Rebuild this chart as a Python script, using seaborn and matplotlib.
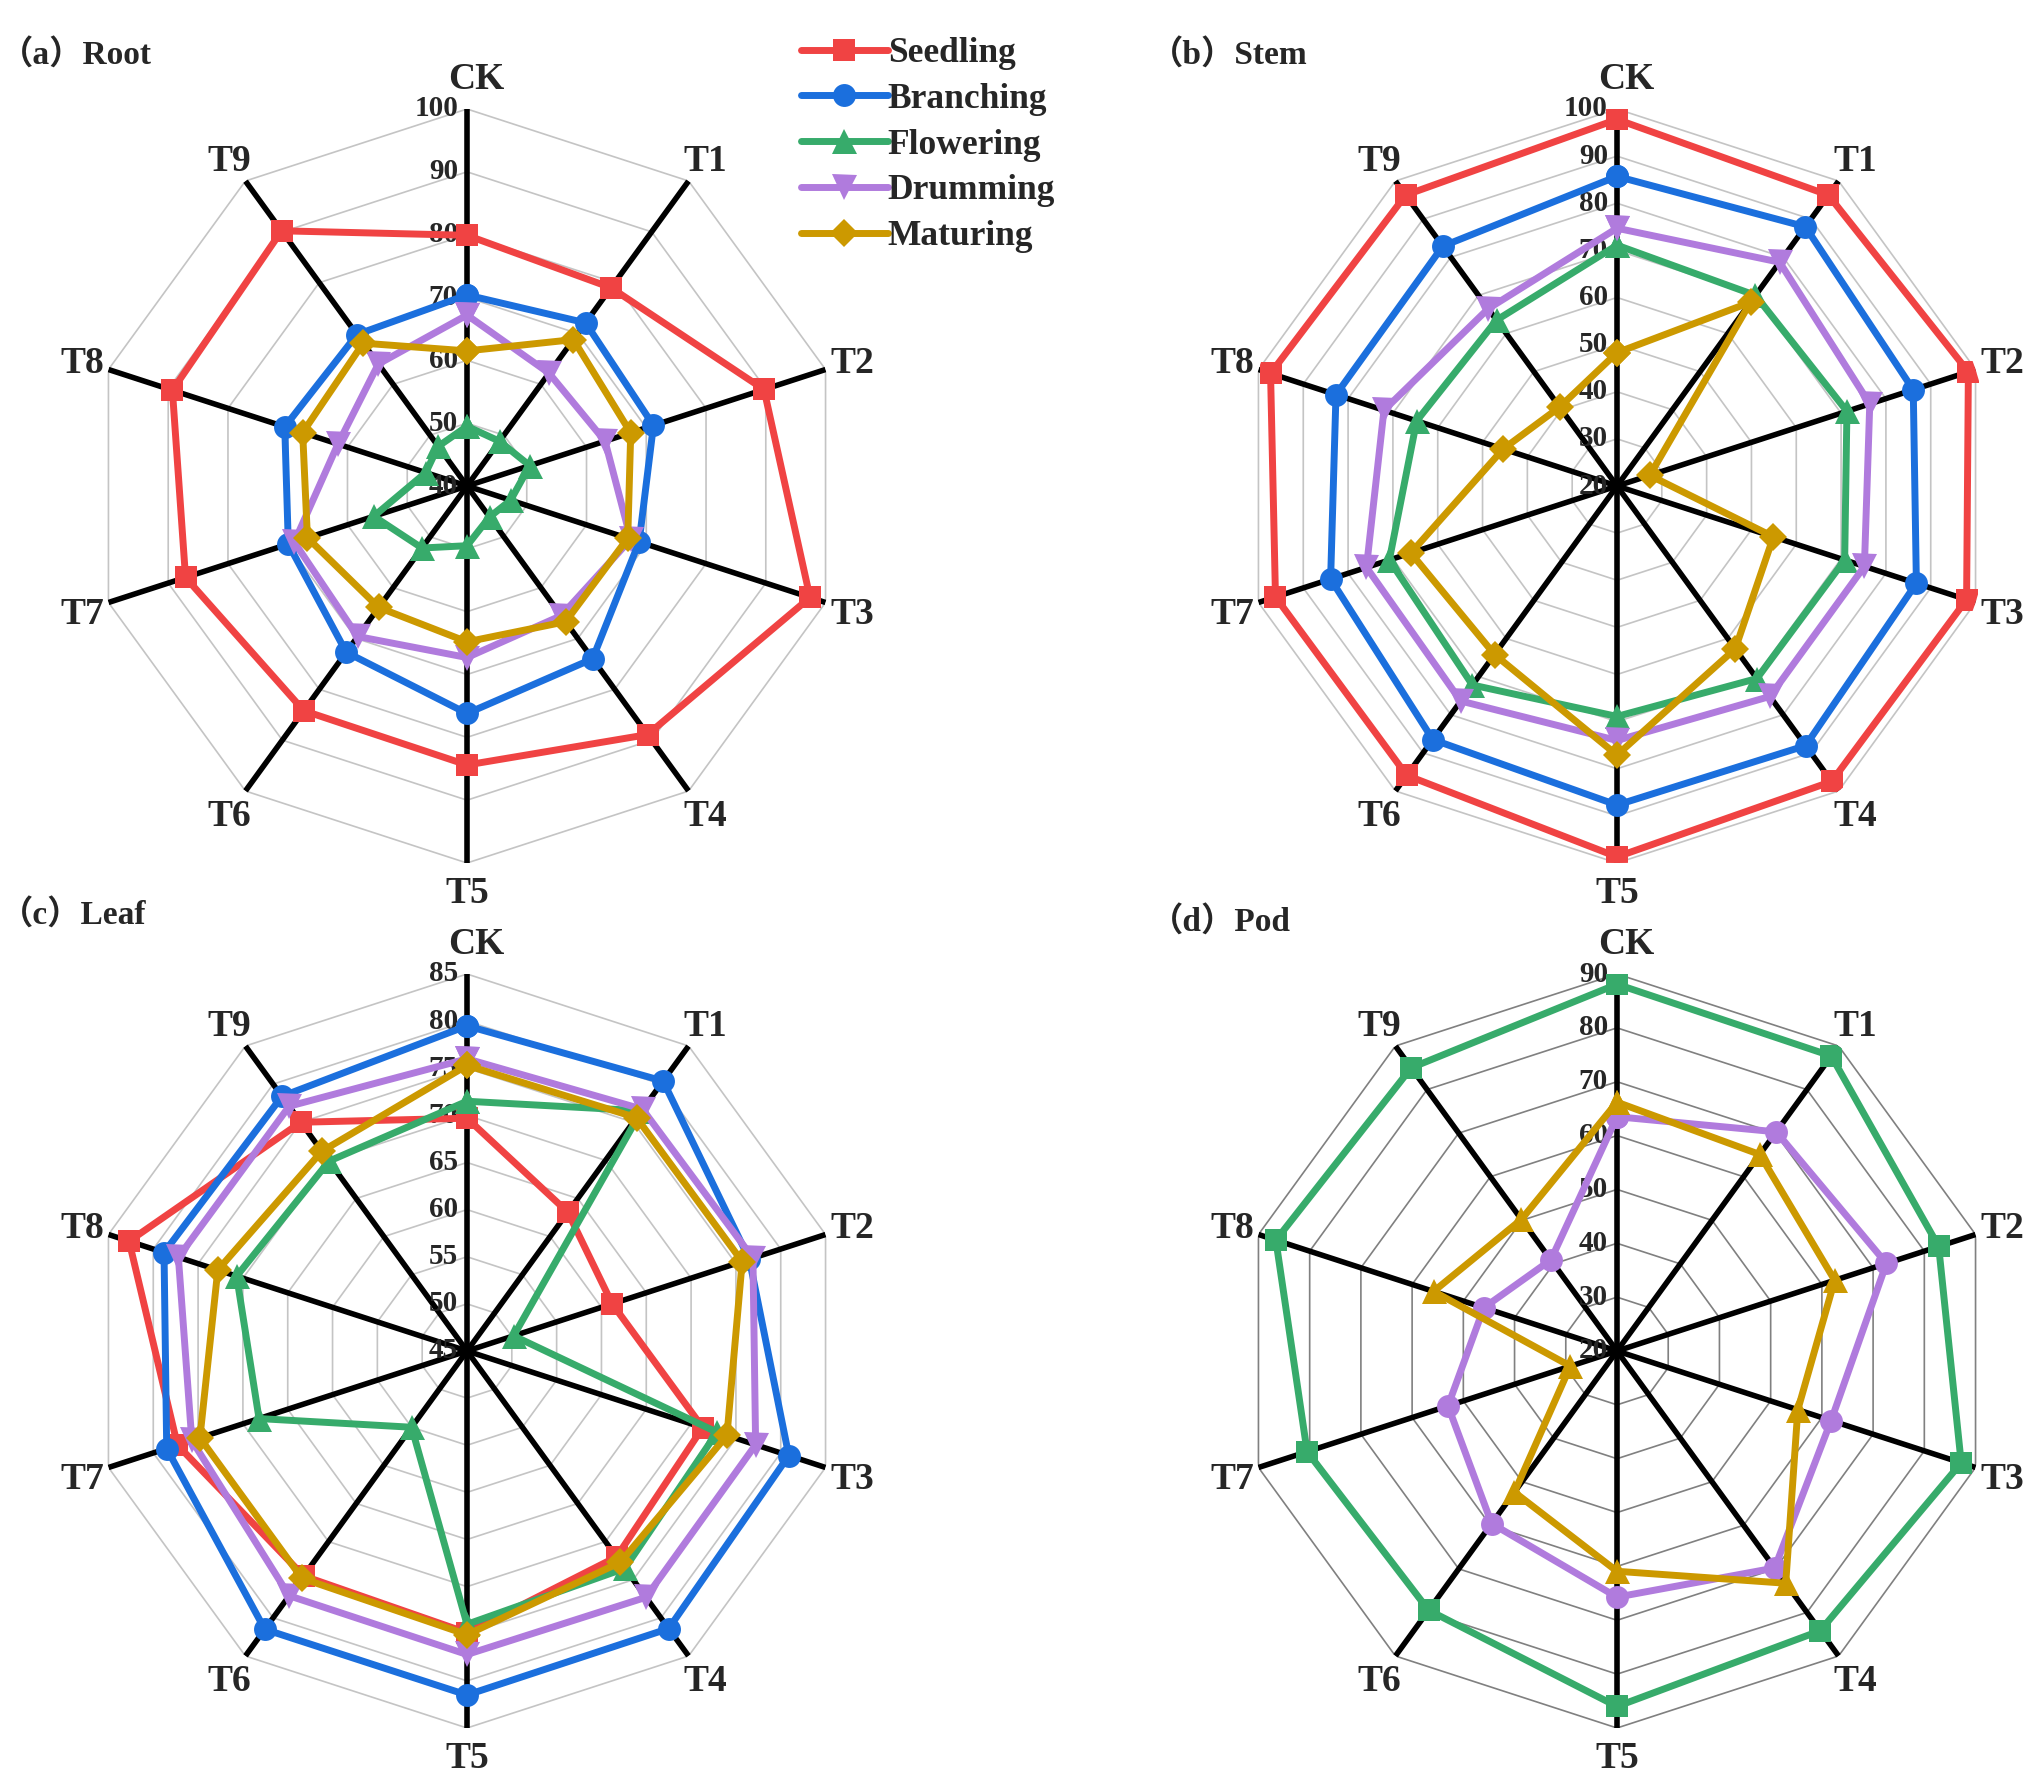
import numpy as np
import pandas as pd
import matplotlib
matplotlib.use('Agg')
import matplotlib.pyplot as plt
import matplotlib.transforms as mtransforms
import seaborn as sns

# 数据
categories = ['CK', 'T1', 'T2', 'T3', 'T4', 'T5', 'T6', 'T7', 'T8', 'T9']
stages = ['Seedling', 'Branching', 'Flowering', 'Drumming', 'Maturing']

root_seedling = [79.9, 79.0, 89.7, 97.4, 88.9, 84.4, 84.2, 87.1, 89.3, 90.2]
root_branching = [70.4, 72.1, 71.2, 68.8, 74.0, 76.2, 72.7, 69.9, 70.5, 69.8]
root_flowering = [49.5, 48.8, 50.5, 47.3, 46.1, 49.5, 52.2, 55.6, 46.9, 47.8]
root_drumming = [67.2, 62.2, 63.1, 67.4, 65.5, 67.3, 69.6, 68.9, 61.6, 64.0]
root_maturing = [61.5, 68.8, 67.4, 66.9, 66.7, 64.8, 63.9, 66.7, 67.5, 68.1]

stem_seedling = [97.8, 96.3, 98.4, 98.0, 97.5, 98.7, 95.9, 96.2, 97.3, 96.3]
stem_branching = [85.7, 88.0, 86.1, 86.8, 88.1, 87.7, 86.5, 83.9, 82.7, 82.9]
stem_flowering = [71.1, 70.0, 71.3, 70.8, 70.5, 68.9, 72.2, 70.8, 64.7, 63.5]
stem_drumming = [74.7, 78.7, 76.4, 75.2, 75.2, 74.0, 76.4, 75.9, 72.0, 66.5]
stem_maturing = [48.3, 68.2, 27.3, 54.9, 62.7, 77.1, 64.2, 66.0, 45.4, 40.7]

leaf_seedling = [69.7, 63.2, 61.2, 71.3, 72.0, 74.9, 74.5, 77.3, 82.7, 75.0]
leaf_branching = [79.5, 80.4, 76.5, 80.9, 81.4, 81.5, 81.5, 78.5, 78.8, 78.4]
leaf_flowering = [71.5, 76.5, 50.2, 72.9, 73.5, 74.0, 55.0, 68.2, 70.7, 69.9]
leaf_drumming = [76.0, 76.7, 76.9, 77.2, 77.3, 77.2, 77.1, 75.7, 77.2, 77.1]
leaf_maturing = [75.3, 75.6, 75.7, 74.0, 72.7, 75.1, 74.8, 74.8, 72.8, 71.2]

pod_flowering = [88.1, 87.7, 82.8, 87.2, 84.2, 86.0, 79.5, 80.5, 86.6, 85.0]
pod_drumming = [63.5, 70.3, 72.6, 61.8, 69.8, 65.7, 59.6, 53.0, 46.0, 40.9]
pod_maturing = [66.2, 65.1, 62.5, 55.3, 73.3, 60.9, 52.4, 29.1, 55.8, 50.2]

colors = {'Seedling': '#F04343', 'Branching': '#1B6FDD', 'Flowering': '#37AB6B',
          'Drumming': '#B07BDD', 'Maturing': '#CC9900'}

sns.set_style('white')
plt.rcParams['font.family'] = ['Liberation Serif', 'Noto Sans CJK SC', 'DejaVu Sans']
plt.rcParams['font.weight'] = 'bold'

W, H = 2043, 1786
R = 377
fig = plt.figure(figsize=(W / 100, H / 100), dpi=100)


def box(cx, cy):
    return [(cx - R) / W, 1 - (cy + R) / H, 2 * R / W, 2 * R / H]


theta = np.linspace(0, 2 * np.pi, len(categories), endpoint=False)
theta_c = np.append(theta, 2 * np.pi)


def radar(ax, series, lo, hi, step, grid_color):
    ax.set_theta_zero_location('N')
    ax.set_theta_direction(-1)
    ax.grid(False)
    ax.spines['polar'].set_visible(False)
    # 网格多边形
    for r in np.arange(lo + step, hi + step / 2, step):
        ax.plot(theta_c, np.full(len(theta_c), r), color=grid_color, lw=1.2, zorder=1)
    for t in theta:
        ax.plot([t, t], [lo, hi], color='black', lw=4.0, zorder=2, solid_capstyle='butt')
    off = mtransforms.offset_copy(ax.transData, fig=fig, x=-9, y=0, units='dots')
    for r in np.arange(lo, hi + step / 2, step):
        ax.text(0, r, f'{r:g}', transform=off, ha='right', va='center',
                fontsize=21, zorder=2.5)
    for name, vals, marker, ms in series:
        df = pd.DataFrame({'theta': theta_c, 'value': vals + vals[:1]})
        sns.lineplot(data=df, x='theta', y='value', ax=ax, color=colors[name],
                     marker=marker, markersize=ms, markeredgewidth=0,
                     linewidth=5.0, label=name, zorder=3, estimator=None)
    ax.set_ylim(lo, hi)
    ax.set_xticks([])
    ax.set_yticks([])
    ax.set_xlabel('')
    ax.set_ylabel('')
    for t, c in zip(theta, categories):
        x = 0.5 + 0.537 * np.sin(t)
        y = 0.496 + 0.537 * np.cos(t)
        if c == 'CK':
            x += 0.012
            y += 0.006
        ax.text(x, y, c, transform=ax.transAxes, ha='center', va='center', fontsize=27)


ax_a = fig.add_axes(box(467, 486), projection='polar')
radar(ax_a, [('Seedling', root_seedling, 's', 16), ('Branching', root_branching, 'o', 16.5),
             ('Flowering', root_flowering, '^', 18), ('Drumming', root_drumming, 'v', 18),
             ('Maturing', root_maturing, 'D', 14)], 40, 100, 10, '#C4C4C4')

ax_b = fig.add_axes(box(1617, 486), projection='polar')
radar(ax_b, [('Seedling', stem_seedling, 's', 16), ('Branching', stem_branching, 'o', 16.5),
             ('Flowering', stem_flowering, '^', 18), ('Drumming', stem_drumming, 'v', 18),
             ('Maturing', stem_maturing, 'D', 14)], 20, 100, 10, '#C4C4C4')

ax_c = fig.add_axes(box(467, 1351), projection='polar')
radar(ax_c, [('Seedling', leaf_seedling, 's', 16), ('Branching', leaf_branching, 'o', 16.5),
             ('Flowering', leaf_flowering, '^', 18), ('Drumming', leaf_drumming, 'v', 18),
             ('Maturing', leaf_maturing, 'D', 14)], 45, 85, 5, '#C4C4C4')

ax_d = fig.add_axes(box(1617, 1351), projection='polar')
radar(ax_d, [('Flowering', pod_flowering, 's', 16), ('Drumming', pod_drumming, 'o', 16.5),
             ('Maturing', pod_maturing, '^', 18)], 20, 90, 10, '#808080')

handles, labels = ax_a.get_legend_handles_labels()
for ax in [ax_a, ax_b, ax_c, ax_d]:
    if ax.get_legend() is not None:
        ax.get_legend().remove()

fig.legend(handles, labels, loc='upper left', bbox_to_anchor=(801 / W, 1 - 37 / H),
           frameon=False, fontsize=25.5, handlelength=2.45, handletextpad=0.0,
           labelspacing=0.36, borderpad=0, borderaxespad=0)

fig.text(0 / W, 1 - 55 / H, '（a）Root', ha='left', va='center', fontsize=24)
fig.text(1150 / W, 1 - 55 / H, '（b）Stem', ha='left', va='center', fontsize=24)
fig.text(0 / W, 1 - 915 / H, '（c）Leaf', ha='left', va='center', fontsize=24)
fig.text(1150 / W, 1 - 922 / H, '（d）Pod', ha='left', va='center', fontsize=24)

fig.savefig('out.png', dpi=100)
